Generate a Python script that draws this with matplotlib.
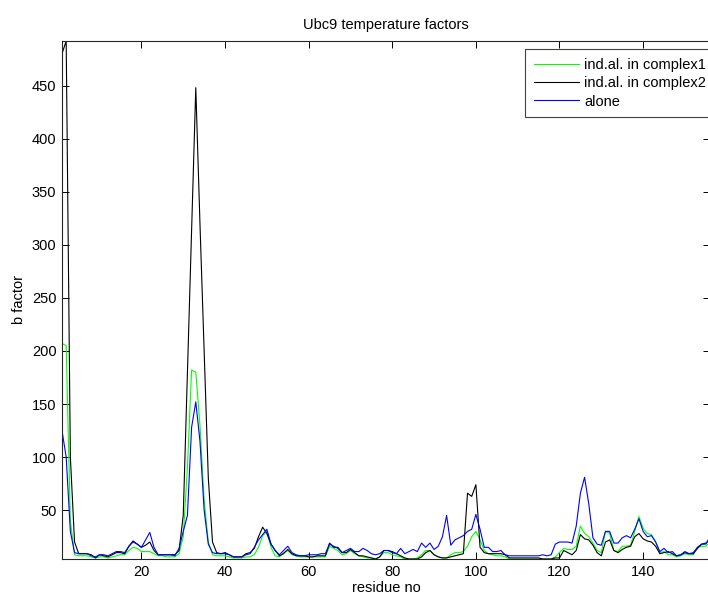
import numpy as np
import matplotlib
matplotlib.use("Agg")
import matplotlib.pyplot as plt

plt.rcParams["font.family"] = ["Liberation Sans", "DejaVu Sans"]

# residue numbers 1..156
residues = list(range(1, 157))

# B factors per residue, complex 1 alignment
b_complex1 = [
    207, 205, 40, 8, 7, 7, 7, 6, 5, 6,
    6, 5, 6, 7, 8, 8, 12, 15, 14, 11,
    11, 11, 9, 7, 7, 6, 6, 6, 9, 25,
    90, 182, 180, 130, 60, 20, 8, 7, 7, 7,
    6, 5, 5, 5, 6, 6, 8, 15, 26, 30,
    15, 7, 6, 10, 12, 8, 7, 6, 6, 6,
    6, 6, 6, 6, 16, 14, 12, 8, 9, 12,
    9, 7, 6, 5, 5, 4, 6, 10, 10, 8,
    7, 6, 4, 4, 4, 5, 8, 12, 12, 8,
    6, 5, 5, 8, 10, 10, 11, 16, 25, 30,
    22, 12, 9, 8, 7, 7, 6, 4, 4, 4,
    4, 4, 4, 4, 4, 4, 4, 4, 6, 10,
    14, 13, 13, 16, 35, 28, 25, 19, 12, 10,
    30, 28, 12, 11, 16, 16, 17, 30, 44, 33,
    28, 27, 20, 10, 11, 8, 8, 6, 7, 9,
    8, 8, 15, 16, 16, 20,
]

# B factors per residue, complex 2 alignment
b_complex2 = [
    480, 492, 100, 20, 9, 9, 9, 8, 5, 8,
    7, 6, 8, 10, 10, 9, 16, 21, 18, 15,
    17, 20, 12, 8, 8, 8, 8, 8, 12, 45,
    180, 315, 448, 320, 200, 80, 20, 10, 9, 10,
    8, 6, 6, 6, 9, 10, 14, 25, 34, 28,
    18, 12, 7, 9, 13, 9, 7, 7, 7, 6,
    6, 7, 7, 7, 19, 15, 15, 10, 10, 13,
    10, 7, 7, 6, 5, 4, 6, 12, 12, 11,
    9, 7, 5, 4, 4, 4, 6, 10, 12, 8,
    6, 5, 5, 6, 7, 8, 9, 66, 63, 74,
    15, 10, 9, 9, 9, 9, 8, 5, 5, 5,
    5, 5, 5, 5, 5, 4, 4, 4, 5, 5,
    12, 10, 8, 12, 27, 23, 22, 17, 10, 7,
    20, 22, 12, 10, 13, 15, 16, 25, 28, 23,
    21, 20, 16, 9, 10, 11, 9, 7, 8, 10,
    9, 9, 14, 18, 19, 22,
]

# B factors per residue, free protein
b_alone = [
    125, 100, 30, 10, 9, 9, 9, 7, 6, 8,
    8, 7, 9, 11, 11, 10, 16, 20, 18, 15,
    22, 29, 15, 8, 8, 8, 8, 7, 14, 30,
    45, 128, 152, 115, 50, 18, 10, 9, 9, 9,
    8, 6, 6, 6, 8, 9, 15, 22, 27, 32,
    18, 12, 8, 12, 16, 10, 8, 7, 7, 8,
    8, 8, 9, 9, 18, 16, 14, 10, 12, 14,
    11, 11, 14, 12, 9, 8, 9, 12, 12, 10,
    9, 14, 9, 11, 13, 11, 19, 15, 19, 13,
    16, 25, 45, 17, 22, 24, 26, 30, 32, 46,
    32, 15, 15, 11, 11, 12, 8, 7, 7, 7,
    7, 7, 7, 7, 7, 8, 7, 8, 18, 20,
    20, 20, 19, 35, 66, 81, 56, 24, 18, 17,
    30, 30, 19, 19, 24, 26, 24, 32, 42, 30,
    25, 26, 20, 11, 14, 10, 11, 7, 8, 11,
    9, 10, 15, 18, 18, 25,
]

series_labels = ["ind.al. in complex1", "ind.al. in complex2", "alone"]

W, H = 708, 596
fig = plt.figure(figsize=(W / 100, H / 100), dpi=100)
ax = fig.add_axes([62 / W, 1 - 559 / H, 648 / W, 518 / H])

ax.plot(residues, b_complex1, color="#00ff00", lw=0.8, label=series_labels[0])
ax.plot(residues, b_complex2, color="black", lw=0.8, label=series_labels[1])
ax.plot(residues, b_alone, color="#0000ff", lw=0.8, label=series_labels[2])

# tight limits around the data
all_b = np.concatenate([b_complex1, b_complex2, b_alone])
ax.set_xlim(min(residues), max(residues))
ax.set_ylim(all_b.min(), all_b.max())

ax.set_xticks(np.arange(20, 141, 20))
ax.set_yticks(np.arange(50, 451, 50))
ax.tick_params(direction="in", length=5, width=0.7, top=True, right=True,
               labelsize=10.5, colors="black", pad=4)
for s in ax.spines.values():
    s.set_linewidth(0.8)
    s.set_color("#262626")

ax.set_title("Ubc9 temperature factors", fontsize=10.5, pad=9)
ax.set_xlabel("residue no", fontsize=10.5, labelpad=2)
ax.set_ylabel("b factor", fontsize=10.5, labelpad=4)

leg = ax.legend(loc="upper left", bbox_to_anchor=(525 / W, 1 - 49 / H),
                bbox_transform=fig.transFigure, fontsize=10.5,
                fancybox=False, framealpha=1, edgecolor="#404040",
                handlelength=3.1, handletextpad=0.35, labelspacing=0.3,
                borderpad=0.6, borderaxespad=0)
leg.get_frame().set_linewidth(0.8)

fig.savefig("out.png", dpi=100)
